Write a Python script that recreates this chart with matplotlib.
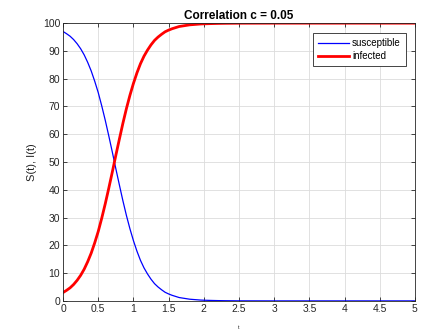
import numpy as np
import matplotlib
matplotlib.use('Agg')
import matplotlib.pyplot as plt

# values
t = [0.0, 0.05, 0.1, 0.15, 0.2, 0.25, 0.3, 0.35, 0.4, 0.45, 0.5,
     0.55, 0.6, 0.65, 0.7, 0.75, 0.8, 0.85, 0.9, 0.95, 1.0,
     1.05, 1.1, 1.15, 1.2, 1.25, 1.3, 1.35, 1.4, 1.45, 1.5,
     1.55, 1.6, 1.65, 1.7, 1.75, 1.8, 1.85, 1.9, 1.95, 2.0,
     2.1, 2.2, 2.3, 2.5, 3.0, 3.5, 4.0, 4.5, 5.0]
infected = [3.0, 3.8, 4.7, 5.9, 7.4, 9.2, 11.4, 14.1, 17.2, 20.9, 25.0,
            29.8, 35.0, 40.6, 46.4, 52.4, 58.2, 63.9, 69.2, 74.0, 78.3,
            82.1, 85.4, 88.1, 90.3, 92.2, 93.8, 95.0, 96.0, 96.9, 97.5,
            98.0, 98.4, 98.8, 99.0, 99.2, 99.4, 99.5, 99.6, 99.7, 99.76,
            99.84, 99.9, 99.94, 99.98, 100.0, 100.0, 100.0, 100.0, 100.0]
susceptible = [100.0 - v for v in infected]

plt.rcParams['font.family'] = ['Liberation Sans', 'DejaVu Sans']

fig = plt.figure(figsize=(4.26, 3.31), dpi=100)
ax = fig.add_axes([0.148, 0.091, 0.826, 0.839])

ax.plot(t, susceptible, color='#0000ff', linewidth=0.9, label='susceptible')
ax.plot(t, infected, color='#ff0000', linewidth=2.0, label='infected')

ax.set_xlim(0, 5)
ax.set_ylim(0, 100)
ax.set_xticks(np.arange(0, 5.01, 0.5))
ax.set_xticklabels(['0', '0.5', '1', '1.5', '2', '2.5', '3', '3.5', '4', '4.5', '5'])
ax.set_yticks(range(0, 101, 10))
ax.grid(True, color='#dcdcdc', linewidth=0.6)
ax.tick_params(direction='in', top=True, right=True, length=3, width=0.6,
               labelsize=7.5, colors='#262626', pad=2)
for s in ax.spines.values():
    s.set_color('#262626')
    s.set_linewidth(0.6)

ax.set_title('Correlation c = 0.05', fontsize=8.5, fontweight='bold', pad=3)
ax.set_ylabel('S(t), I(t)', fontsize=8, color='#262626', labelpad=4)
ax.set_xlabel('t', fontsize=4, color='#262626', labelpad=8)

leg = ax.legend(loc='upper right', fontsize=7, fancybox=False, framealpha=1,
                edgecolor='#262626', borderpad=0.5, handlelength=3.2,
                handletextpad=0.35, labelspacing=0.3, borderaxespad=0,
                bbox_to_anchor=(0.974, 0.964))
leg.get_frame().set_linewidth(0.6)

fig.savefig('out.png', dpi=100)
